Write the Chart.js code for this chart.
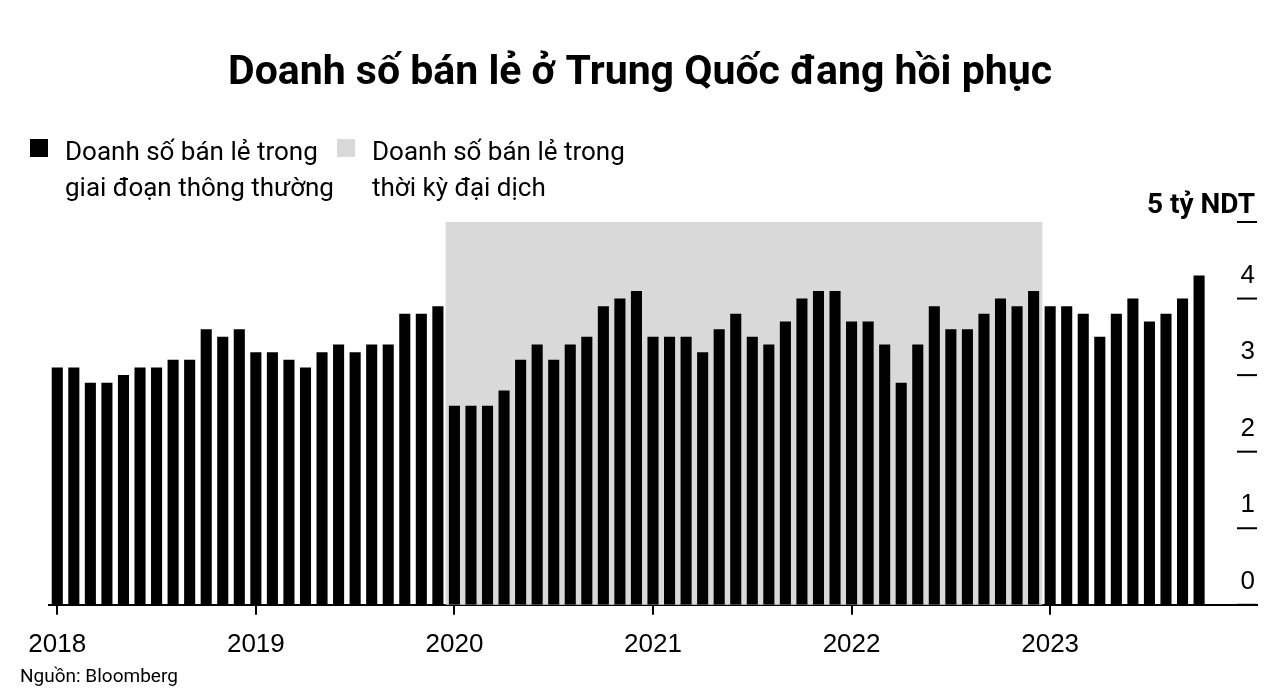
<!DOCTYPE html>
<html lang="vi">
<head>
<meta charset="utf-8">
<title>Doanh số bán lẻ ở Trung Quốc đang hồi phục</title>
<script src="https://cdn.jsdelivr.net/npm/chart.js@4.4.1/dist/chart.umd.min.js"></script>
<style>
  html, body { margin: 0; padding: 0; background: #fff; }
  #wrap { width: 1280px; height: 696px; position: relative; }
</style>
</head>
<body>
<div id="wrap"><canvas id="chart"></canvas></div>
<script>
const titleText = "Doanh số bán lẻ ở Trung Quốc đang hồi phục";
const sourceText = "Nguồn: Bloomberg";
const unitLabel = "5 tỷ NDT";

const years = ["2018", "2019", "2020", "2021", "2022", "2023"];
// monthly retail sales, Jan 2018 - Oct 2023
const sales = [
  3.1, 3.1, 2.9, 2.9, 3.0, 3.1, 3.1, 3.2, 3.2, 3.6, 3.5, 3.6,
  3.3, 3.3, 3.2, 3.1, 3.3, 3.4, 3.3, 3.4, 3.4, 3.8, 3.8, 3.9,
  2.6, 2.6, 2.6, 2.8, 3.2, 3.4, 3.2, 3.4, 3.5, 3.9, 4.0, 4.1,
  3.5, 3.5, 3.5, 3.3, 3.6, 3.8, 3.5, 3.4, 3.7, 4.0, 4.1, 4.1,
  3.7, 3.7, 3.4, 2.9, 3.4, 3.9, 3.6, 3.6, 3.8, 4.0, 3.9, 4.1,
  3.9, 3.9, 3.8, 3.5, 3.8, 4.0, 3.7, 3.8, 4.0, 4.3
];
const pandemicStart = "2020-01";
const pandemicEnd = "2022-12";
const yTicks = [0, 1, 2, 3, 4, 5];
const yMax = 5;

const legendItems = [
  { color: "#000000", lines: ["Doanh số bán lẻ trong", "giai đoạn thông thường"] },
  { color: "#d9d9d9", lines: ["Doanh số bán lẻ trong", "thời kỳ đại dịch"] }
];

// month categories, with a few empty months of axis at the end
const months = [];
for (const y of years.concat(["2024"])) {
  for (let m = 1; m <= 12; m++) months.push(`${y}-${String(m).padStart(2, "0")}`);
}
const labels = months.slice(0, sales.length + 3);
const shade = labels.map(l => (l >= pandemicStart && l <= pandemicEnd) ? yMax : null);

const textFont = 'Roboto, "Noto Sans", sans-serif';
const numFont = '"Liberation Sans", Arial, sans-serif';

const annotations = {
  id: "annotations",
  afterDraw(chart) {
    const { ctx, chartArea } = chart;
    const yScale = chart.scales.y;
    ctx.save();
    ctx.fillStyle = "#000";
    ctx.textBaseline = "alphabetic";

    // title
    ctx.font = `bold 41px ${textFont}`;
    ctx.textAlign = "center";
    ctx.fillText(titleText, chart.width / 2, 84);

    // legend
    ctx.textAlign = "left";
    ctx.font = `26px ${textFont}`;
    const legendX = [30, 337];
    legendItems.forEach((item, i) => {
      ctx.fillStyle = item.color;
      ctx.fillRect(legendX[i], 139, 18, 18);
      ctx.fillStyle = "#000";
      item.lines.forEach((line, j) => {
        ctx.fillText(line, legendX[i] + 35, 160 + j * 36);
      });
    });

    // source
    ctx.font = `19px ${textFont}`;
    ctx.fillText(sourceText, 20, 682);

    // y ticks on the right
    ctx.textAlign = "right";
    ctx.strokeStyle = "#000";
    ctx.lineWidth = 2;
    yTicks.forEach(v => {
      const py = yScale.getPixelForValue(v);
      ctx.beginPath();
      ctx.moveTo(chartArea.right - 20, py);
      ctx.lineTo(chartArea.right, py);
      ctx.stroke();
      if (v === yMax) {
        ctx.font = `bold 28px ${textFont}`;
        ctx.fillText(unitLabel, chartArea.right - 2, py - 9);
      } else {
        ctx.font = `26px ${numFont}`;
        ctx.fillText(String(v), chartArea.right - 2, py - 16);
      }
    });
    ctx.restore();
  }
};

new Chart(document.getElementById("chart"), {
  type: "bar",
  data: {
    labels: labels,
    datasets: [
      {
        label: "Doanh số bán lẻ",
        data: sales,
        backgroundColor: "#000000",
        barPercentage: 0.67,
        categoryPercentage: 1,
        grouped: false,
        order: 1
      },
      {
        label: "Thời kỳ đại dịch",
        data: shade,
        backgroundColor: "#d9d9d9",
        barPercentage: 1,
        categoryPercentage: 1,
        grouped: false,
        inflateAmount: 0.5,
        order: 2
      }
    ]
  },
  options: {
    responsive: true,
    maintainAspectRatio: false,
    animation: false,
    layout: { padding: { top: 222, left: 49, right: 23, bottom: 22 } },
    plugins: {
      legend: { display: false },
      tooltip: { enabled: false },
      title: { display: false }
    },
    scales: {
      x: {
        offset: true,
        grid: {
          offset: false,
          drawOnChartArea: false,
          drawTicks: true,
          tickLength: 10,
          lineWidth: 2,
          color: ctx => (ctx.index % 12 === 0 && ctx.index < years.length * 12) ? "#000" : "rgba(0,0,0,0)"
        },
        border: { display: true, color: "#000", width: 2 },
        ticks: {
          autoSkip: false,
          maxRotation: 0,
          padding: 14,
          color: "#000",
          font: { family: numFont, size: 26 },
          callback: function (value, index) {
            const l = labels[index];
            return (l.endsWith("-01") && years.includes(l.slice(0, 4))) ? l.slice(0, 4) : "";
          }
        }
      },
      y: {
        display: false,
        min: 0,
        max: yMax
      }
    }
  },
  plugins: [annotations]
});
</script>
</body>
</html>
